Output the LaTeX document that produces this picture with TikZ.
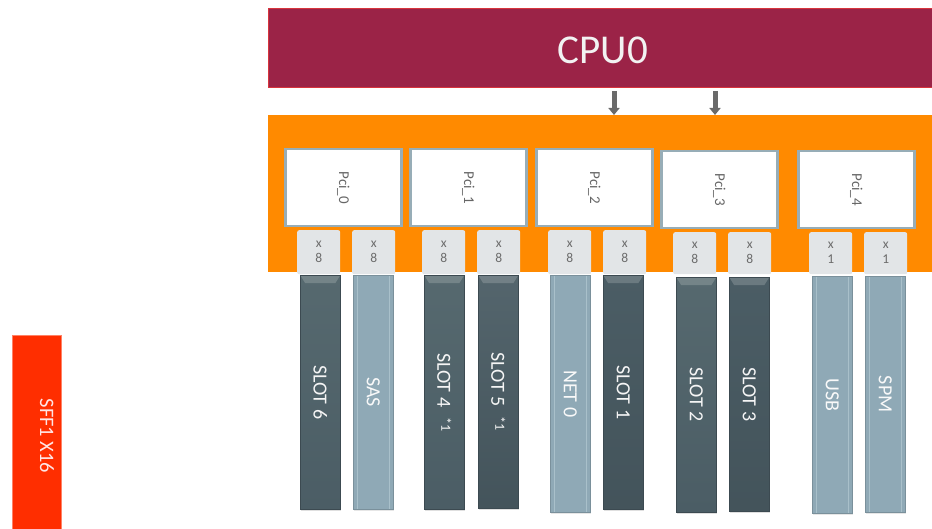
\documentclass[tikz,border=0pt]{standalone}
\usepackage{fontspec}
\setmainfont{Carlito}
\usetikzlibrary{arrows.meta,calc,shadows}
\definecolor{cpuc}{HTML}{9B2347}
\definecolor{cpuedge}{HTML}{D8343C}
\definecolor{orangec}{HTML}{FF8A00}
\definecolor{redc}{HTML}{FF2E00}
\definecolor{pciedge}{HTML}{97ADB7}
\definecolor{tabc}{HTML}{E2E5E7}
\definecolor{darkslot}{HTML}{56696F}
\definecolor{darkslotb}{HTML}{4B5D65}
\definecolor{lightslot}{HTML}{8FA9B6}
\definecolor{lightline}{HTML}{A9C0CA}
\definecolor{arrc}{HTML}{6A6A6A}
\begin{document}
\begin{tikzpicture}[x=1pt,y=-1pt,
  cpubox/.style={draw=cpuedge,line width=1pt,fill=cpuc,anchor=north west,inner sep=0pt,
    minimum width=680pt,minimum height=79pt,text=white!90!gray},
  bus/.style={fill=orangec,anchor=north west,inner sep=0pt,minimum width=680pt,minimum height=157pt},
  pcibox/.style={draw=pciedge,line width=2.5pt,fill=white,anchor=north west,inner sep=0pt,
    minimum width=116pt,minimum height=77pt,text=gray!80!black},
  lanes/.style={fill=tabc,rounded corners=2pt,anchor=north west,inner sep=0pt,
    minimum width=43pt,text=gray!85!black,align=center,font=\fontsize{13.5}{15}\selectfont},
  dslot/.style={top color=darkslot,bottom color=darkslotb,draw=darkslotb!80!black,line width=0.5pt,
    anchor=north west,inner sep=0pt,minimum width=40pt,minimum height=234pt,text=white!92!gray,
    drop shadow={opacity=0.25,shadow xshift=1pt,shadow yshift=-2pt},
    path picture={\fill[white,opacity=0.18] (path picture bounding box.north west) -- (path picture bounding box.north east)
      -- ++(-5pt,-8pt) -- ($(path picture bounding box.north west)+(5pt,-8pt)$) -- cycle;}},
  lslot/.style={fill=lightslot,draw=lightslot!85!black,line width=0.5pt,
    anchor=north west,inner sep=0pt,minimum width=40pt,minimum height=234pt,text=white!95!gray,
    drop shadow={opacity=0.2,shadow xshift=1pt,shadow yshift=-2pt},
    path picture={\draw[lightline,line width=0.8pt] ($(path picture bounding box.north west)+(4pt,0)$) -- ($(path picture bounding box.south west)+(4pt,0)$);
      \draw[lightline,line width=0.8pt] ($(path picture bounding box.north east)+(-4pt,0)$) -- ($(path picture bounding box.south east)+(-4pt,0)$);}},
  slotlbl/.style={rotate=-90,font=\fontsize{20}{22}\selectfont},
  arr/.style={draw=arrc,line width=5pt,-{Triangle[length=7pt,width=11pt]}}
]
\useasboundingbox (0,0) rectangle (932,529);

% CPU
\node[cpubox] (cpu) at (268,8) {};
\node[text=white!90!gray,font=\fontsize{41}{43}\selectfont] (cpulbl) at (603,50) {CPU0};

% bus region
\node[bus] (bus) at (268,115) {};

% arrows
\coordinate (a1) at (614,0);
\coordinate (a2) at (715,0);
\draw[arr] (cpu.south -| a1) ++(0,3) -- (bus.north -| a1);
\draw[arr] (cpu.south -| a2) ++(0,3) -- (bus.north -| a2);

% PCI boxes
\node[pcibox] (p0) at (284,148) {\rotatebox{-90}{\fontsize{15}{17}\selectfont Pci\_0}};
\node[pcibox] (p1) at (409,148) {\rotatebox{-90}{\fontsize{15}{17}\selectfont Pci\_1}};
\node[pcibox] (p2) at (535,148) {\rotatebox{-90}{\fontsize{15}{17}\selectfont Pci\_2}};
\node[pcibox] (p3) at (660,150) {\rotatebox{-90}{\fontsize{15}{17}\selectfont Pci\_3}};
\node[pcibox] (p4) at (797,150) {\rotatebox{-90}{\fontsize{15}{17}\selectfont Pci\_4}};

% lane tabs
\node[lanes,minimum height=44pt] (t0) at (297,230) {x\\8};
\node[lanes,minimum height=44pt] (t1) at (352,230) {x\\8};
\node[lanes,minimum height=44pt] (t2) at (422,230) {x\\8};
\node[lanes,minimum height=44pt] (t3) at (477,230) {x\\8};
\node[lanes,minimum height=44pt] (t4) at (548,230) {x\\8};
\node[lanes,minimum height=44pt] (t5) at (603,230) {x\\8};
\node[lanes,minimum height=42pt] (t6) at (673,232) {x\\8};
\node[lanes,minimum height=42pt] (t7) at (728,232) {x\\8};
\node[lanes,minimum height=42pt] (t8) at (809,232) {x\\1};
\node[lanes,minimum height=42pt] (t9) at (864,232) {x\\1};

% slots
\node[dslot] (s0) at (300,275) {};
\node[slotlbl,text=white!92!gray] at (s0.center) {SLOT 6};
\node[lslot] (s1) at (353,275) {};
\node[slotlbl,text=white!95!gray] at (s1.center) {SAS};
\node[dslot] (s2) at (424,275) {};
\node[slotlbl,text=white!92!gray] at (s2.center) {SLOT 4\enspace\raisebox{0.2em}{\fontsize{14}{16}\selectfont *1}};
\node[dslot,top color=darkslotb!95!white,bottom color=darkslotb!90!black,minimum height=233pt] (s3) at (478,275) {};
\node[slotlbl,text=white!92!gray] at (s3.center) {SLOT 5\enspace\raisebox{0.2em}{\fontsize{14}{16}\selectfont *1}};
\node[lslot,minimum height=237pt] (s4) at (550,275) {};
\node[slotlbl,text=white!95!gray] at (s4.center) {NET 0};
\node[dslot,top color=darkslotb,bottom color=darkslotb!90!black] (s5) at (603,275) {};
\node[slotlbl,text=white!92!gray] at (s5.center) {SLOT 1};
\node[dslot,minimum height=235pt] (s6) at (676,277) {};
\node[slotlbl,text=white!92!gray] at (s6.center) {SLOT 2};
\node[dslot,top color=darkslotb,bottom color=darkslotb!90!black] (s7) at (729,277) {};
\node[slotlbl,text=white!92!gray] at (s7.center) {SLOT 3};
\node[lslot,minimum height=237pt] (s8) at (812,276) {};
\node[slotlbl,text=white!95!gray] at (s8.center) {USB};
\node[lslot,minimum height=236pt] (s9) at (865,276) {};
\node[slotlbl,text=white!95!gray] at (s9.center) {SPM};

% SFF
\node[fill=redc,draw=redc!60!white,line width=0.5pt,anchor=north west,inner sep=0pt,minimum width=49pt,minimum height=200pt] (sff) at (12,335) {};
\node[rotate=-90,text=white!90!red,font=\fontsize{20.5}{22}\selectfont] (sfflbl) at (47,436) {SFF1 X16};
\end{tikzpicture}
\end{document}
